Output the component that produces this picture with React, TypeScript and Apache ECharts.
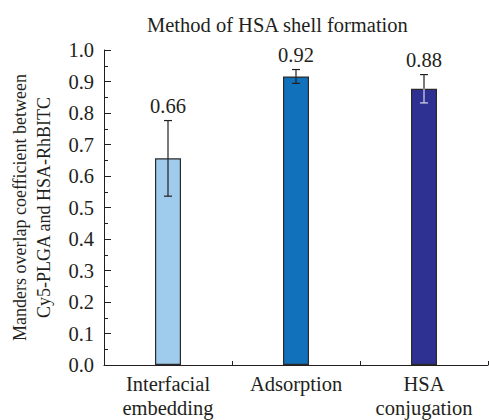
import React, { useEffect, useRef } from "react";
import * as echarts from "echarts";

const categories = ["Interfacial\nembedding", "Adsorption", "HSA\nconjugation"];
const values = [0.656, 0.916, 0.877];
const errors = [0.12, 0.022, 0.045];
const barColors = ["#9fcbec", "#1172bb", "#2e3192"];
const yTicks = [0, 0.1, 0.2, 0.3, 0.4, 0.5, 0.6, 0.7, 0.8, 0.9, 1.0];

const FONT = "Liberation Serif";
const INK = "#231f20";

export default function App() {
  const ref = useRef<HTMLDivElement>(null);
  useEffect(() => {
    if (!ref.current) return;
    const chart = echarts.init(ref.current, null, { renderer: "svg" });
    const errData = values.map((v, i) => [i, v - errors[i], v + errors[i], v]);
    chart.setOption({
      animation: false,
      textStyle: { fontFamily: FONT, fontWeight: "normal" },
      title: {
        text: "Method of HSA shell formation",
        left: 142,
        top: 9,
        textStyle: { fontFamily: FONT, fontSize: 20.5, fontWeight: "normal", color: INK },
      },
      grid: { left: 101, right: 1, top: 50, bottom: 54 },
      xAxis: [
        {
          type: "category",
          data: categories,
          boundaryGap: true,
          axisLine: { lineStyle: { color: INK, width: 1 } },
          axisTick: { show: true, inside: true, length: 4, alignWithLabel: false, lineStyle: { color: INK } },
          axisLabel: { fontFamily: FONT, fontWeight: "normal", fontSize: 20.5, color: INK, margin: 7, lineHeight: 24, interval: 0 },
        },
        {
          type: "category",
          data: categories,
          position: "bottom",
          axisLine: { show: false },
          axisTick: { show: true, inside: true, length: 4, alignWithLabel: true, lineStyle: { color: INK } },
          axisLabel: { show: false },
        },
      ],
      yAxis: {
        type: "value",
        min: 0,
        max: 1,
        interval: 0.1,
        name: "Manders overlap coefficient between\nCy5-PLGA and HSA-RhBITC",
        nameLocation: "middle",
        nameGap: 48,
        nameTextStyle: { fontFamily: FONT, fontWeight: "normal", fontSize: 18, color: INK, lineHeight: 24 },
        axisLine: { show: true, lineStyle: { color: INK, width: 1 } },
        axisTick: { show: true, inside: true, length: 7, lineStyle: { color: INK } },
        minorTick: { show: true, splitNumber: 2, length: 4, lineStyle: { color: INK } },
        splitLine: { show: false },
        axisLabel: {
          fontFamily: FONT,
          fontWeight: "normal",
          fontSize: 20.5,
          color: INK,
          margin: 10,
          formatter: (v: number) => {
            const t = yTicks.find((x) => Math.abs(x - v) < 1e-9);
            return (t !== undefined ? t : v).toFixed(1);
          },
        },
      },
      series: [
        {
          type: "bar",
          data: values.map((v, i) => ({ value: v, itemStyle: { color: barColors[i] } })),
          barWidth: 26,
          itemStyle: { borderColor: "#2a2a2a", borderWidth: 1.2 },
        },
        {
          type: "custom",
          data: errData,
          z: 10,
          renderItem: (params: any, api: any) => {
            const i = api.value(0);
            const lo = api.coord([i, api.value(1)]);
            const hi = api.coord([i, api.value(2)]);
            const mid = api.coord([i, api.value(3)]);
            const x = hi[0];
            const cap = 4;
            const insideColor = params.dataIndex === 2 ? "#d8d8e8" : INK;
            const label = api.value(3).toFixed(2);
            return {
              type: "group",
              children: [
                { type: "line", shape: { x1: x, y1: hi[1], x2: x, y2: mid[1] }, style: { stroke: INK, lineWidth: 1.2 } },
                { type: "line", shape: { x1: x, y1: mid[1], x2: x, y2: lo[1] }, style: { stroke: insideColor, lineWidth: 1.2 } },
                { type: "line", shape: { x1: x - cap, y1: hi[1], x2: x + cap, y2: hi[1] }, style: { stroke: INK, lineWidth: 1.2 } },
                { type: "line", shape: { x1: x - cap, y1: lo[1], x2: x + cap, y2: lo[1] }, style: { stroke: insideColor, lineWidth: 1.2 } },
                {
                  type: "text",
                  x: x,
                  y: hi[1] - 4,
                  style: {
                    text: label,
                    fontFamily: FONT,
                    fontWeight: "normal",
                    fontSize: 20.5,
                    fill: INK,
                    align: "center",
                    verticalAlign: "bottom",
                  },
                },
              ],
            };
          },
        },
      ],
    });
    return () => chart.dispose();
  }, []);
  return <div ref={ref} style={{ width: 489, height: 420, position: "absolute", left: 0, top: 0, background: "#fff" }} />;
}
